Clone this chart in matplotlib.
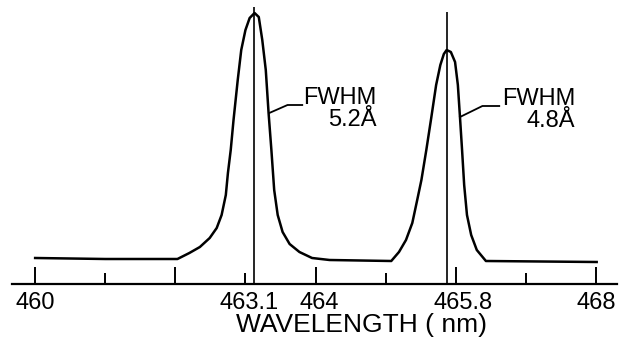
import matplotlib.pyplot as plt
from matplotlib.transforms import blended_transform_factory

plt.rcParams['font.family'] = ['Liberation Sans', 'DejaVu Sans']

# spectrum (wavelength nm, intensity arb.)
wl = [460.00, 461.00, 462.03, 462.20, 462.35, 462.49, 462.59, 462.66, 462.72,
      462.75, 462.79, 462.83, 462.89, 462.94, 463.00, 463.06, 463.13, 463.19,
      463.24, 463.29, 463.33, 463.37, 463.41, 463.46, 463.53, 463.63, 463.77,
      463.95, 464.20, 465.08, 465.19, 465.29, 465.38, 465.45, 465.51, 465.58,
      465.65, 465.72, 465.78, 465.83, 465.87, 465.93, 465.99, 466.03, 466.06,
      466.09, 466.12, 466.16, 466.22, 466.30, 466.43, 468.01]
inten = [26, 25, 25, 31, 37, 46, 56, 69, 89,
         111, 134, 164, 204, 234, 254, 266, 271, 267,
         244, 214, 171, 134, 94, 69, 52, 40, 32,
         26, 24, 23, 32, 44, 61, 84, 104, 134,
         166, 199, 219, 230, 234, 232, 222, 199, 167,
         134, 99, 69, 49, 34, 23, 22]

peak_pos = [463.12, 465.87]
peak_line_top = [277, 272]

major_ticks = [460, 462, 464, 466, 468]
minor_ticks = [461, 463, 465, 467]
label_pos = [460.0, 463.05, 464.05, 466.1, 468.0]
label_txt = ['460', '463.1', '464', '465.8', '468']

fwhm_txt = ['FWHM\n5.2Å', 'FWHM\n4.8Å']
fwhm_xy = [(463.82, 197), (466.66, 196)]
leader_x = [[463.34, 463.60, 463.81], [466.06, 466.38, 466.62]]
leader_y = [[171, 179, 179], [167, 178, 178]]

fig = plt.figure(figsize=(6.31, 3.41), dpi=100)
ax = fig.add_axes([12 / 631, 57 / 341, 605 / 631, 284 / 341])

ax.plot(wl, inten, color='black', lw=1.8)
ax.vlines(peak_pos, 0, peak_line_top, color='black', lw=1.2)

for lx, ly in zip(leader_x, leader_y):
    ax.plot(lx, ly, color='black', lw=1.3)
for (tx, ty), t in zip(fwhm_xy, fwhm_txt):
    ax.text(tx, ty, t, ha='left', va='top', multialignment='right',
            fontsize=17, linespacing=1.0)

ax.set_xlim(459.67, 468.30)
ax.set_ylim(0, 284)

for s in ['top', 'right', 'left']:
    ax.spines[s].set_visible(False)
ax.spines['bottom'].set_linewidth(1.6)
ax.set_yticks([])
ax.set_xticks(major_ticks)
ax.set_xticks(minor_ticks, minor=True)
ax.tick_params(axis='x', which='major', direction='in', length=12, width=1.4,
               labelbottom=False)
ax.tick_params(axis='x', which='minor', direction='in', length=8, width=1.4)

trans = blended_transform_factory(ax.transData, ax.transAxes)
for p, t in zip(label_pos, label_txt):
    ax.text(p, -0.028, t, transform=trans, ha='center', va='top', fontsize=17)

ax.text(464.65, -0.103, 'WAVELENGTH ( nm)', transform=trans, ha='center',
        va='top', fontsize=19)

fig.savefig('out.png', dpi=100)
